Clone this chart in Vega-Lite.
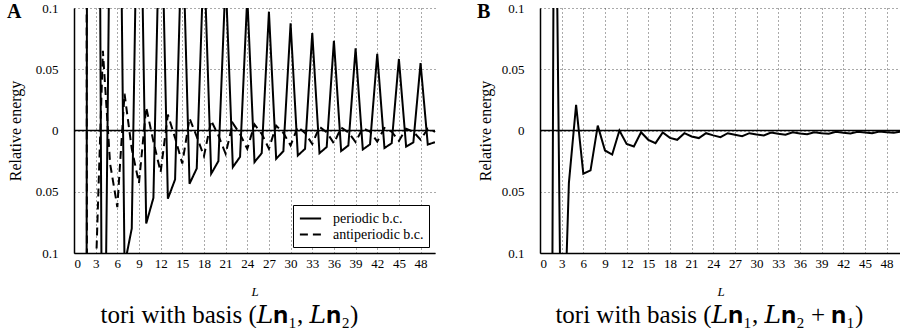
{
  "$schema": "https://vega.github.io/schema/vega-lite/v6.json",
  "padding": {"left": 7, "top": 2, "right": 0, "bottom": 0},
  "background": "white",
  "config": {
    "view": {"stroke": null},
    "font": "Liberation Serif, DejaVu Serif, serif",
    "style": {
      "guide-label": {"font": "Liberation Serif, serif", "fill": "black"},
      "guide-title": {"font": "Liberation Serif, serif", "fill": "black"}
    },
    "axis": {
      "labelFont": "Liberation Serif, serif", "labelFontSize": 13, "labelColor": "black",
      "titleFont": "Liberation Serif, serif", "titleFontWeight": "normal", "titleColor": "black", "titleFontSize": 16,
      "domainColor": "black", "domainWidth": 1.5,
      "gridColor": "#555", "gridDash": [1, 3], "gridWidth": 1, "ticks": false
    },
    "legend": {"labelFont": "Liberation Serif, serif"},
    "title": {"font": "Liberation Serif, DejaVu Serif, serif", "color": "black"}
  },
  "datasets": {
    "a": [
      {"L": 1, "E": -4.0, "bc": "periodic b.c."},
      {"L": 2, "E": 1.2, "bc": "periodic b.c."},
      {"L": 3, "E": 0.88, "bc": "periodic b.c."},
      {"L": 4, "E": -0.35, "bc": "periodic b.c."},
      {"L": 5, "E": 0.2, "bc": "periodic b.c."},
      {"L": 6, "E": 0.44, "bc": "periodic b.c."},
      {"L": 7, "E": -0.11, "bc": "periodic b.c."},
      {"L": 8, "E": -0.08, "bc": "periodic b.c."},
      {"L": 9, "E": 0.29, "bc": "periodic b.c."},
      {"L": 10, "E": -0.076, "bc": "periodic b.c."},
      {"L": 11, "E": -0.055, "bc": "periodic b.c."},
      {"L": 12, "E": 0.219, "bc": "periodic b.c."},
      {"L": 13, "E": -0.0557, "bc": "periodic b.c."},
      {"L": 14, "E": -0.04, "bc": "periodic b.c."},
      {"L": 15, "E": 0.175, "bc": "periodic b.c."},
      {"L": 16, "E": -0.0435, "bc": "periodic b.c."},
      {"L": 17, "E": -0.031, "bc": "periodic b.c."},
      {"L": 18, "E": 0.146, "bc": "periodic b.c."},
      {"L": 19, "E": -0.0353, "bc": "periodic b.c."},
      {"L": 20, "E": -0.025, "bc": "periodic b.c."},
      {"L": 21, "E": 0.125, "bc": "periodic b.c."},
      {"L": 22, "E": -0.0299, "bc": "periodic b.c."},
      {"L": 23, "E": -0.0215, "bc": "periodic b.c."},
      {"L": 24, "E": 0.1096, "bc": "periodic b.c."},
      {"L": 25, "E": -0.0258, "bc": "periodic b.c."},
      {"L": 26, "E": -0.0185, "bc": "periodic b.c."},
      {"L": 27, "E": 0.097, "bc": "periodic b.c."},
      {"L": 28, "E": -0.0231, "bc": "periodic b.c."},
      {"L": 29, "E": -0.0169, "bc": "periodic b.c."},
      {"L": 30, "E": 0.0875, "bc": "periodic b.c."},
      {"L": 31, "E": -0.0204, "bc": "periodic b.c."},
      {"L": 32, "E": -0.015, "bc": "periodic b.c."},
      {"L": 33, "E": 0.0796, "bc": "periodic b.c."},
      {"L": 34, "E": -0.0185, "bc": "periodic b.c."},
      {"L": 35, "E": -0.0135, "bc": "periodic b.c."},
      {"L": 36, "E": 0.0733, "bc": "periodic b.c."},
      {"L": 37, "E": -0.0168, "bc": "periodic b.c."},
      {"L": 38, "E": -0.0122, "bc": "periodic b.c."},
      {"L": 39, "E": 0.067, "bc": "periodic b.c."},
      {"L": 40, "E": -0.0155, "bc": "periodic b.c."},
      {"L": 41, "E": -0.0113, "bc": "periodic b.c."},
      {"L": 42, "E": 0.0625, "bc": "periodic b.c."},
      {"L": 43, "E": -0.0143, "bc": "periodic b.c."},
      {"L": 44, "E": -0.0104, "bc": "periodic b.c."},
      {"L": 45, "E": 0.0584, "bc": "periodic b.c."},
      {"L": 46, "E": -0.0132, "bc": "periodic b.c."},
      {"L": 47, "E": -0.0097, "bc": "periodic b.c."},
      {"L": 48, "E": 0.055, "bc": "periodic b.c."},
      {"L": 49, "E": -0.0115, "bc": "periodic b.c."},
      {"L": 50, "E": -0.0095, "bc": "periodic b.c."},
      {"L": 1, "E": 4.0, "bc": "antiperiodic b.c."},
      {"L": 2, "E": -1.2, "bc": "antiperiodic b.c."},
      {"L": 3, "E": -0.12, "bc": "antiperiodic b.c."},
      {"L": 4, "E": 0.065, "bc": "antiperiodic b.c."},
      {"L": 5, "E": -0.027, "bc": "antiperiodic b.c."},
      {"L": 6, "E": -0.0625, "bc": "antiperiodic b.c."},
      {"L": 7, "E": 0.03, "bc": "antiperiodic b.c."},
      {"L": 8, "E": -0.015, "bc": "antiperiodic b.c."},
      {"L": 9, "E": -0.043, "bc": "antiperiodic b.c."},
      {"L": 10, "E": 0.019, "bc": "antiperiodic b.c."},
      {"L": 11, "E": -0.009, "bc": "antiperiodic b.c."},
      {"L": 12, "E": -0.034, "bc": "antiperiodic b.c."},
      {"L": 13, "E": 0.013, "bc": "antiperiodic b.c."},
      {"L": 14, "E": -0.006, "bc": "antiperiodic b.c."},
      {"L": 15, "E": -0.027, "bc": "antiperiodic b.c."},
      {"L": 16, "E": 0.01, "bc": "antiperiodic b.c."},
      {"L": 17, "E": -0.005, "bc": "antiperiodic b.c."},
      {"L": 18, "E": -0.021, "bc": "antiperiodic b.c."},
      {"L": 19, "E": 0.008, "bc": "antiperiodic b.c."},
      {"L": 20, "E": -0.004, "bc": "antiperiodic b.c."},
      {"L": 21, "E": -0.019, "bc": "antiperiodic b.c."},
      {"L": 22, "E": 0.006, "bc": "antiperiodic b.c."},
      {"L": 23, "E": -0.003, "bc": "antiperiodic b.c."},
      {"L": 24, "E": -0.015, "bc": "antiperiodic b.c."},
      {"L": 25, "E": 0.005, "bc": "antiperiodic b.c."},
      {"L": 26, "E": -0.0027, "bc": "antiperiodic b.c."},
      {"L": 27, "E": -0.0149, "bc": "antiperiodic b.c."},
      {"L": 28, "E": 0.004, "bc": "antiperiodic b.c."},
      {"L": 29, "E": -0.002, "bc": "antiperiodic b.c."},
      {"L": 30, "E": -0.0122, "bc": "antiperiodic b.c."},
      {"L": 31, "E": 0.003, "bc": "antiperiodic b.c."},
      {"L": 32, "E": -0.002, "bc": "antiperiodic b.c."},
      {"L": 33, "E": -0.011, "bc": "antiperiodic b.c."},
      {"L": 34, "E": 0.003, "bc": "antiperiodic b.c."},
      {"L": 35, "E": -0.0015, "bc": "antiperiodic b.c."},
      {"L": 36, "E": -0.0105, "bc": "antiperiodic b.c."},
      {"L": 37, "E": 0.0025, "bc": "antiperiodic b.c."},
      {"L": 38, "E": -0.0015, "bc": "antiperiodic b.c."},
      {"L": 39, "E": -0.0095, "bc": "antiperiodic b.c."},
      {"L": 40, "E": 0.002, "bc": "antiperiodic b.c."},
      {"L": 41, "E": -0.001, "bc": "antiperiodic b.c."},
      {"L": 42, "E": -0.009, "bc": "antiperiodic b.c."},
      {"L": 43, "E": 0.002, "bc": "antiperiodic b.c."},
      {"L": 44, "E": -0.001, "bc": "antiperiodic b.c."},
      {"L": 45, "E": -0.0085, "bc": "antiperiodic b.c."},
      {"L": 46, "E": 0.0015, "bc": "antiperiodic b.c."},
      {"L": 47, "E": -0.001, "bc": "antiperiodic b.c."},
      {"L": 48, "E": -0.0075, "bc": "antiperiodic b.c."},
      {"L": 49, "E": 0.0015, "bc": "antiperiodic b.c."},
      {"L": 50, "E": -0.001, "bc": "antiperiodic b.c."}
    ],
    "b": [
      {"L": 1, "E": -1.2}, {"L": 2, "E": 0.32}, {"L": 3, "E": -0.233}, {"L": 4, "E": -0.043},
      {"L": 5, "E": 0.021}, {"L": 6, "E": -0.0353}, {"L": 7, "E": -0.0326}, {"L": 8, "E": 0.004},
      {"L": 9, "E": -0.0163}, {"L": 10, "E": -0.0196}, {"L": 11, "E": 0.0}, {"L": 12, "E": -0.0109},
      {"L": 13, "E": -0.013}, {"L": 14, "E": -0.0014}, {"L": 15, "E": -0.0076}, {"L": 16, "E": -0.0103},
      {"L": 17, "E": -0.0016}, {"L": 18, "E": -0.006}, {"L": 19, "E": -0.0076}, {"L": 20, "E": -0.0022},
      {"L": 21, "E": -0.0049}, {"L": 22, "E": -0.0062}, {"L": 23, "E": -0.0022}, {"L": 24, "E": -0.004},
      {"L": 25, "E": -0.0054}, {"L": 26, "E": -0.0022}, {"L": 27, "E": -0.0035}, {"L": 28, "E": -0.0046},
      {"L": 29, "E": -0.0022}, {"L": 30, "E": -0.0033}, {"L": 31, "E": -0.004}, {"L": 32, "E": -0.0016},
      {"L": 33, "E": -0.0027}, {"L": 34, "E": -0.0035}, {"L": 35, "E": -0.0014}, {"L": 36, "E": -0.0024},
      {"L": 37, "E": -0.003}, {"L": 38, "E": -0.0014}, {"L": 39, "E": -0.0022}, {"L": 40, "E": -0.0027},
      {"L": 41, "E": -0.0011}, {"L": 42, "E": -0.0019}, {"L": 43, "E": -0.0024}, {"L": 44, "E": -0.0011},
      {"L": 45, "E": -0.0016}, {"L": 46, "E": -0.0022}, {"L": 47, "E": -0.0008}, {"L": 48, "E": -0.0014},
      {"L": 49, "E": -0.0019}, {"L": 50, "E": -0.0008}
    ]
  },
  "spacing": 41,
  "resolve": {"legend": {"strokeDash": "independent"}},
  "hconcat": [
    {
      "title": {"text": "tori with basis (𝐿𝐧₁, 𝐿𝐧₂)", "orient": "bottom", "anchor": "middle", "fontSize": 25, "fontWeight": "normal", "offset": 5, "dx": 8},
      "resolve": {"legend": {"strokeDash": "independent"}},
      "vconcat": [
        {
          "width": 361, "height": 245,
          "title": {"text": "A", "anchor": "start", "frame": "bounds", "orient": "top", "fontSize": 20, "fontWeight": "bold", "baseline": "top", "offset": -20},
          "data": {"name": "a"},
          "layer": [
            {
              "mark": {"type": "line", "color": "black", "strokeWidth": 2, "clip": true},
              "encoding": {
                "x": {"field": "L", "type": "quantitative", "scale": {"domain": [0, 50], "nice": false},
                      "axis": {"values": [0,3,6,9,12,15,18,21,24,27,30,33,36,39,42,45,48], "grid": true, "labelFont": "Liberation Serif, serif", "titleFont": "Liberation Serif, serif", "labelPadding": 4, "title": "L", "titleFontStyle": "italic", "titleFontSize": 13, "titlePadding": 15}},
                "y": {"field": "E", "type": "quantitative", "scale": {"domain": [-0.1, 0.1], "nice": false},
                      "axis": {"values": [-0.1, -0.05, 0, 0.05, 0.1], "labelExpr": "format(abs(datum.value), '~g')", "grid": true, "labelFont": "Liberation Serif, serif", "titleFont": "Liberation Serif, serif", "labelPadding": 16, "minExtent": 40, "maxExtent": 40, "title": "Relative energy", "titlePadding": 11}},
                "strokeDash": {"field": "bc", "type": "nominal",
                      "scale": {"domain": ["periodic b.c.", "antiperiodic b.c."], "range": [[1, 0], [8, 5]]},
                      "legend": {"title": null, "orient": "bottom-right", "offset": 6, "strokeColor": "black", "fillColor": "white", "padding": 5, "labelFont": "Liberation Serif, serif", "labelFontSize": 14, "labelColor": "black", "symbolType": "M-1.5,0H1.5", "symbolStrokeWidth": 2, "symbolStrokeColor": "black", "symbolSize": 200, "rowPadding": -2, "labelOffset": 14, "symbolOffset": 4}}
              }
            },
            {
              "data": {"values": [{"zero": 0}]},
              "mark": {"type": "rule", "color": "black", "strokeWidth": 1.5},
              "encoding": {"y": {"field": "zero", "type": "quantitative"}}
            }
          ]
        }
      ]
    },
    {
      "title": {"text": "tori with basis (𝐿𝐧₁, 𝐿𝐧₂ + 𝐧₁)", "orient": "bottom", "anchor": "middle", "fontSize": 25, "fontWeight": "normal", "offset": 5, "dx": 20},
      "vconcat": [
        {
          "width": 361, "height": 245,
          "title": {"text": "B", "anchor": "start", "frame": "bounds", "orient": "top", "fontSize": 20, "fontWeight": "bold", "baseline": "top", "offset": -20},
          "data": {"name": "b"},
          "layer": [
            {
              "mark": {"type": "line", "color": "black", "strokeWidth": 2, "clip": true},
              "encoding": {
                "x": {"field": "L", "type": "quantitative", "scale": {"domain": [0, 50], "nice": false},
                      "axis": {"values": [0,3,6,9,12,15,18,21,24,27,30,33,36,39,42,45,48], "grid": true, "labelFont": "Liberation Serif, serif", "titleFont": "Liberation Serif, serif", "labelPadding": 4, "title": "L", "titleFontStyle": "italic", "titleFontSize": 13, "titlePadding": 15}},
                "y": {"field": "E", "type": "quantitative", "scale": {"domain": [-0.1, 0.1], "nice": false},
                      "axis": {"values": [-0.1, -0.05, 0, 0.05, 0.1], "labelExpr": "format(abs(datum.value), '~g')", "grid": true, "labelFont": "Liberation Serif, serif", "titleFont": "Liberation Serif, serif", "labelPadding": 16, "minExtent": 40, "maxExtent": 40, "title": "Relative energy", "titlePadding": 7}}
              }
            },
            {
              "data": {"values": [{"zero": 0}]},
              "mark": {"type": "rule", "color": "black", "strokeWidth": 1.5},
              "encoding": {"y": {"field": "zero", "type": "quantitative"}}
            }
          ]
        }
      ]
    }
  ]
}
